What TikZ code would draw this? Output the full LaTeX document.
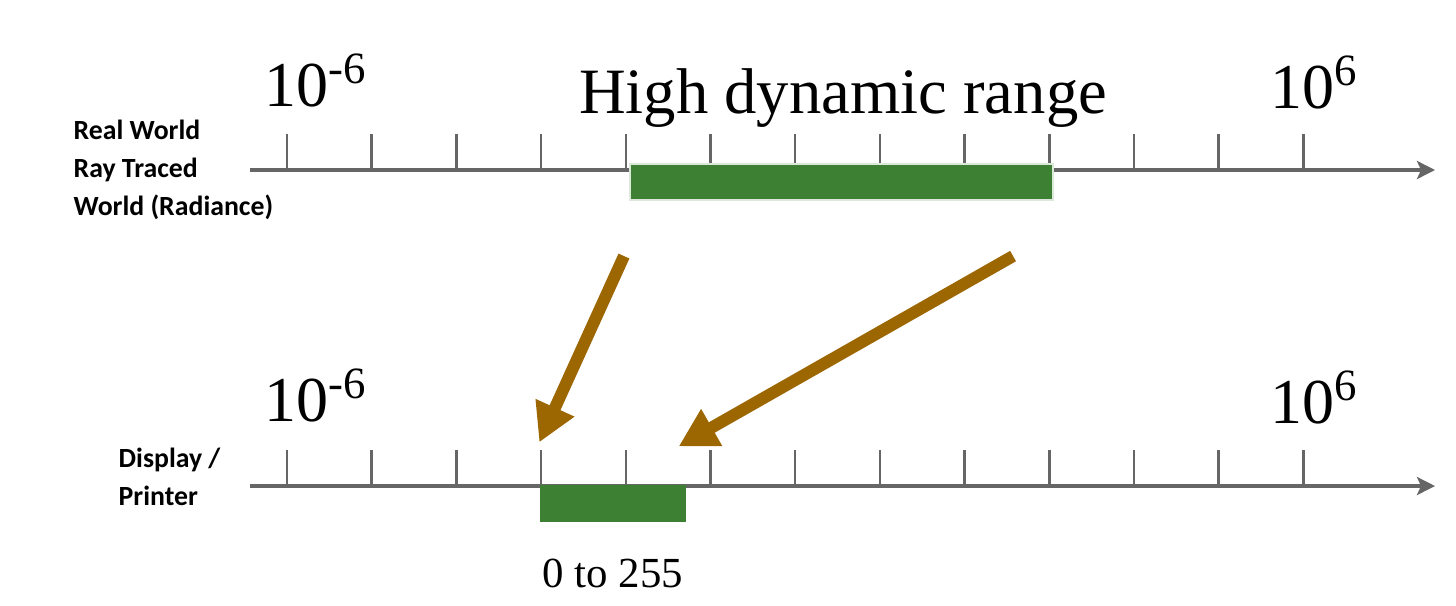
\documentclass[tikz,border=0pt]{standalone}
\usepackage{fontspec}
\setmainfont{Liberation Serif}
\newfontfamily\labelfont{Carlito}
\usetikzlibrary{arrows.meta,positioning}

\definecolor{axisgray}{HTML}{666666}
\definecolor{bargreen}{HTML}{3D8033}
\definecolor{mapbrown}{HTML}{9C6600}

\begin{document}
\begin{tikzpicture}[
    axis/.style={-{Stealth[length=1.8mm,width=1.8mm,inset=0.4mm]}, axisgray, line width=1.4pt},
    tick/.style={axisgray, line width=0.7pt},
    bar/.style={rectangle, fill=bargreen, inner sep=0pt},
    side/.style={font=\labelfont\bfseries\fontsize{7.9}{10.8}\selectfont, align=left,
                inner sep=0pt, anchor=west},
    big/.style={font=\fontsize{18.2}{22}\selectfont, inner sep=0pt, anchor=base},
    maparrow/.style={-{Triangle[length=3.8mm,width=4mm]}, mapbrown, line width=3.4pt}
]
    \useasboundingbox (0,0) rectangle (14.56,6.05);

    % upper axis
    \draw[axis] (2.50,4.35) -- (14.35,4.35);
    \foreach \i in {0,...,12}
        \draw[tick] (2.87+0.847*\i,4.35) -- ++(0,0.36);
    \node[bar, draw=white!82!bargreen, line width=0.6pt,
          minimum width=4.23cm, minimum height=0.36cm] (hdrbar) at (8.415,4.23) {};

    % lower axis
    \draw[axis] (2.50,1.19) -- (14.35,1.19);
    \foreach \i in {0,...,12}
        \draw[tick] (2.87+0.847*\i,1.19) -- ++(0,0.36);
    \node[bar, minimum width=1.46cm, minimum height=0.37cm] (ldrbar) at (6.13,1.015) {};

    % labels
    \node[side] (realworld) at (0.73,4.35) {Real World\\Ray Traced\\World (Radiance)};
    \node[side] (display) at (1.18,1.28) {Display /\\Printer};
    \node[big] (toplow) at (3.16,4.99) {10\textsuperscript{-6}};
    \node[big] (tophigh) at (13.15,4.97) {10\textsuperscript{6}};
    \node[big, font=\fontsize{18.4}{22}\selectfont] (hdr) at (8.43,4.92) {High dynamic range};
    \node[big] (botlow) at (3.16,1.84) {10\textsuperscript{-6}};
    \node[big] (bothigh) at (13.15,1.82) {10\textsuperscript{6}};
    \node[big, font=\fontsize{12.2}{14}\selectfont] (range) at (6.13,0.18) {0 to 255};

    % mapping
    \draw[maparrow] ([xshift=-0.05cm,yshift=-0.55cm]hdrbar.south west)
        -- ([yshift=0.42cm]ldrbar.north west);
    \draw[maparrow] ([xshift=-0.41cm,yshift=-0.55cm]hdrbar.south east)
        -- ([xshift=-0.08cm,yshift=0.38cm]ldrbar.north east);
\end{tikzpicture}
\end{document}
